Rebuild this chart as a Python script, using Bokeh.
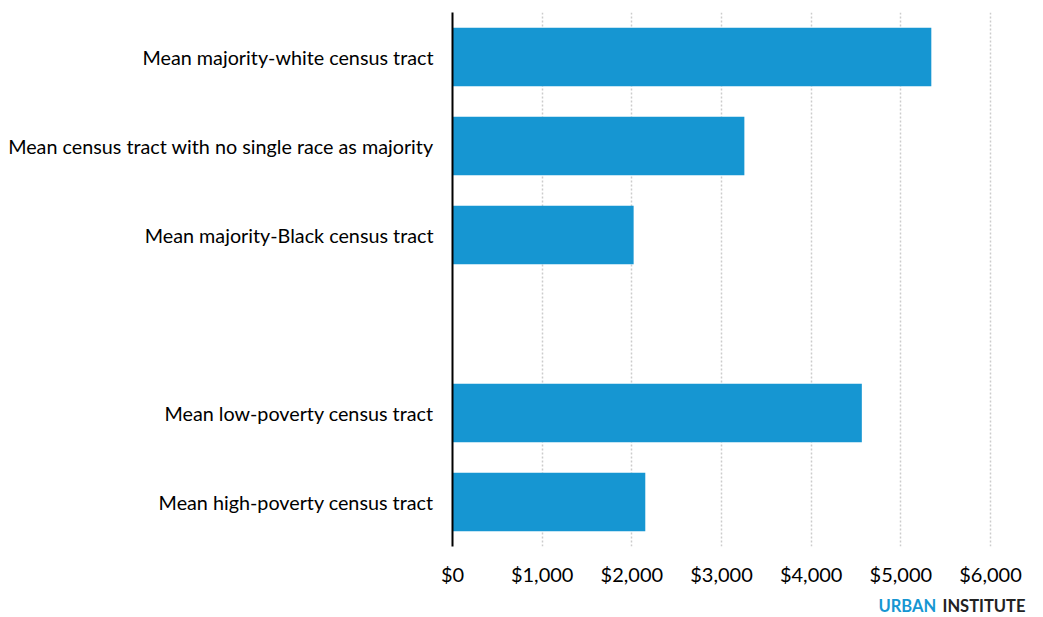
from bokeh.plotting import figure
from bokeh.layouts import column
from bokeh.models import FactorRange, Label, FixedTicker, NumeralTickFormatter
from bokeh.embed import file_html
from bokeh.resources import INLINE

categories = [
    "Mean majority-white census tract",
    "Mean census tract with no single race as majority",
    "Mean majority-Black census tract",
    " ",
    "Mean low-poverty census tract",
    "Mean high-poverty census tract",
]
values = [5340, 3255, 2020, None, 4565, 2150]
x_ticks = [0, 1000, 2000, 3000, 4000, 5000, 6000]
brand_words = ["URBAN", "INSTITUTE"]

FONT = "Lato"
BLUE = "#1696d2"

W = 1035
FRAME_L = 452
FRAME_R_AT_6000 = 990
x_end = x_ticks[-1] * (W - FRAME_L) / (FRAME_R_AT_6000 - FRAME_L)

factors = list(reversed(categories))
bar_cats = [c for c, v in zip(categories, values) if v is not None]
bar_vals = [v for v in values if v is not None]

p = figure(
    width=W, height=588,
    y_range=FactorRange(factors=factors, range_padding=0),
    x_range=(0, x_end),
    output_backend="svg", toolbar_location=None,
    min_border_left=FRAME_L, min_border_right=0, min_border_top=12, min_border_bottom=40,
)
p.outline_line_color = None
p.background_fill_color = "white"
p.border_fill_color = "white"

p.hbar(y=bar_cats, right=bar_vals, left=0, height=0.66, color=BLUE, line_color=None)

# x axis
p.xaxis.ticker = FixedTicker(ticks=x_ticks)
p.xaxis.formatter = NumeralTickFormatter(format="$0,0")
p.xaxis.axis_line_color = None
p.xaxis.major_tick_line_color = None
p.xaxis.minor_tick_line_color = None
p.xaxis.major_label_text_font = FONT
p.xaxis.major_label_text_font_size = "20px"
p.xaxis.major_label_text_color = "#000000"
p.xaxis.major_label_standoff = 9

# y axis
p.yaxis.axis_line_color = "#000000"
p.yaxis.axis_line_width = 2
p.yaxis.major_tick_line_color = None
p.yaxis.minor_tick_line_color = None
p.yaxis.major_label_text_font = FONT
p.yaxis.major_label_text_font_size = "19.75px"
p.yaxis.major_label_text_color = "#000000"
p.yaxis.major_label_standoff = 13

p.ygrid.grid_line_color = None
p.xgrid.ticker = FixedTicker(ticks=x_ticks[1:])
p.xgrid.grid_line_color = "#cccccc"
p.xgrid.grid_line_dash = "2 2"
p.xgrid.grid_line_width = 1.5

# brand strip (frame aligned with main frame; x in pixels)
b = figure(
    width=W, height=28, x_range=(FRAME_L, W), y_range=(0, 28),
    output_backend="svg", toolbar_location=None,
    x_axis_type=None, y_axis_type=None,
    min_border_left=FRAME_L, min_border_right=0, min_border_top=0, min_border_bottom=0,
)
b.outline_line_color = None
b.xgrid.grid_line_color = None
b.ygrid.grid_line_color = None
b.border_fill_color = "white"
b.add_layout(Label(x=878, y=11, text=brand_words[0],
                   text_font=FONT, text_font_size="16.5px", text_font_style="bold",
                   text_color=BLUE, text_baseline="middle"))
b.add_layout(Label(x=942, y=11, text=brand_words[1],
                   text_font=FONT, text_font_size="16.5px", text_font_style="bold",
                   text_color="#222222", text_baseline="middle"))

layout = column(p, b, spacing=0)
open("out.html", "w").write(file_html(layout, INLINE))
